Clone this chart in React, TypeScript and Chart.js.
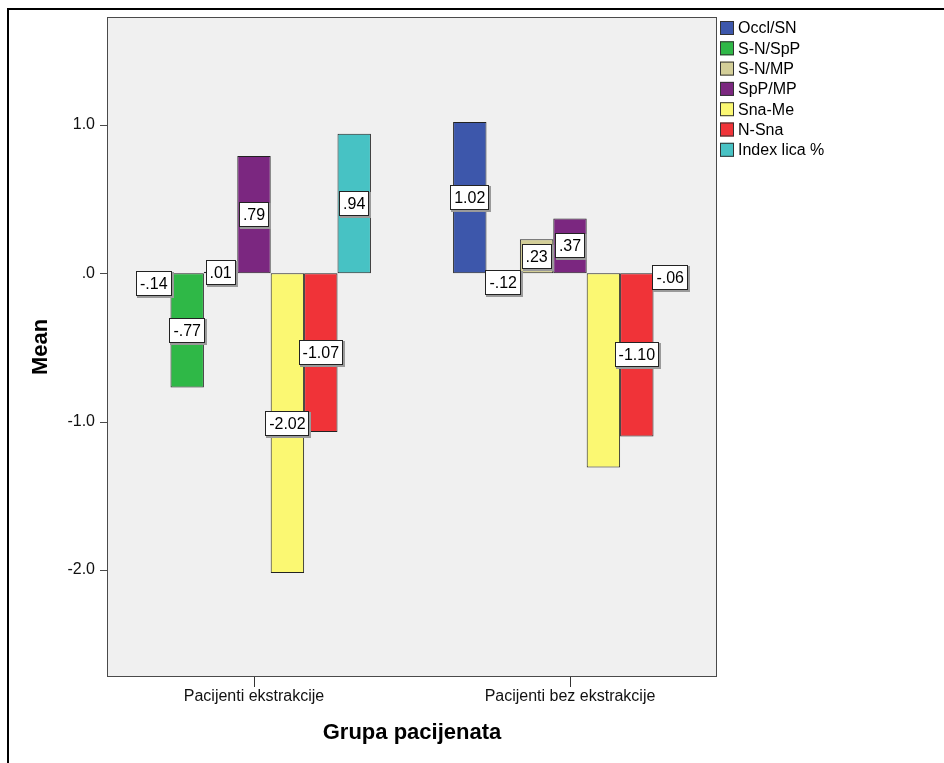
import React, { useEffect, useRef } from 'react';
import { Chart, registerables } from 'chart.js';

Chart.register(...registerables);

const categories = ['Pacijenti ekstrakcije', 'Pacijenti bez ekstrakcije'];
const seriesNames = ['Occl/SN', 'S-N/SpP', 'S-N/MP', 'SpP/MP', 'Sna-Me', 'N-Sna', 'Index lica %'];
const occlSN = [-0.14, 1.02];
const snSpP = [-0.77, -0.12];
const snMP = [0.01, 0.23];
const spPMP = [0.79, 0.37];
const snaMe = [-2.02, -1.31];
const nSna = [-1.07, -1.1];
const indexLica = [0.94, -0.06];
const seriesValues = [occlSN, snSpP, snMP, spPMP, snaMe, nSna, indexLica];
const seriesColors = ['#3D57AB', '#2FB847', '#D4CF98', '#7B2780', '#FBF872', '#F03338', '#47C2C4'];
// value labels hidden by the original renderer (overlap)
const hiddenLabels = [{ series: 4, category: 1 }];
const yTickValues = [-2, -1, 0, 1];
const yMin = -2.722;
const yMax = 1.728;
const xTitle = 'Grupa pacijenata';
const yTitle = 'Mean';

const FONT = '"Liberation Sans", Arial, Helvetica, sans-serif';

function fmtValue(v: number): string {
  const s = Math.abs(v).toFixed(2).replace(/^0/, '');
  return (v < 0 ? '-' : '') + s;
}
function fmtTick(v: number): string {
  if (v === 0) return '.0';
  return v.toFixed(1);
}

const decorPlugin = {
  id: 'decor',
  beforeDraw(chart: any) {
    const { ctx, chartArea } = chart;
    const inset = 11;
    const L = chartArea.left + inset;
    const R = chartArea.right - inset;
    const T = chartArea.top;
    const B = chartArea.bottom;
    ctx.save();
    ctx.fillStyle = '#FFFFFF';
    ctx.fillRect(0, 0, chart.width, chart.height);
    // outer frame (top and left)
    ctx.fillStyle = '#000000';
    ctx.fillRect(7, 8, chart.width - 7, 2);
    ctx.fillRect(7, 8, 2, chart.height - 8);
    // plot background
    ctx.fillStyle = '#F0F0F0';
    ctx.fillRect(L, T, R - L, B - T);
    ctx.strokeStyle = '#4A4A4A';
    ctx.lineWidth = 1;
    ctx.strokeRect(L + 0.5, T + 0.5, R - L - 1, B - T - 1);
    // y tick marks
    const ys = chart.scales.y;
    ctx.beginPath();
    for (const v of yTickValues) {
      const py = Math.round(ys.getPixelForValue(v)) + 0.5;
      ctx.moveTo(L - 7, py);
      ctx.lineTo(L, py);
    }
    ctx.stroke();
    // axis titles
    ctx.fillStyle = '#000000';
    ctx.font = 'bold 22px ' + FONT;
    ctx.textAlign = 'center';
    ctx.textBaseline = 'middle';
    ctx.fillText(xTitle, (L + R) / 2, 733);
    ctx.save();
    ctx.translate(41, (T + B) / 2);
    ctx.rotate(-Math.PI / 2);
    ctx.fillText(yTitle, 0, 0);
    ctx.restore();
    // legend
    ctx.font = '16px ' + FONT;
    ctx.textAlign = 'left';
    for (let i = 0; i < seriesNames.length; i++) {
      const sy = 21 + i * 20.3;
      ctx.fillStyle = seriesColors[i];
      ctx.fillRect(720, sy, 14, 14);
      ctx.strokeStyle = '#333333';
      ctx.strokeRect(720.5, sy + 0.5, 13, 13);
      ctx.fillStyle = '#000000';
      ctx.fillText(seriesNames[i], 738, sy + 8);
    }
    ctx.restore();
  },
  afterDatasetsDraw(chart: any) {
    const { ctx } = chart;
    ctx.save();
    ctx.font = '16px ' + FONT;
    ctx.textAlign = 'center';
    ctx.textBaseline = 'middle';
    chart.data.datasets.forEach((ds: any, di: number) => {
      const meta = chart.getDatasetMeta(di);
      meta.data.forEach((bar: any, ci: number) => {
        if (hiddenLabels.some((h) => h.series === di && h.category === ci)) return;
        const v = ds.data[ci];
        const text = fmtValue(v);
        const cx = bar.x;
        const cy = (bar.y + bar.base) / 2;
        const w = Math.round(ctx.measureText(text).width + 8);
        const h = 25;
        const x0 = Math.round(cx - w / 2);
        const y0 = Math.round(cy - h / 2);
        ctx.fillStyle = '#9A9A9A';
        ctx.fillRect(x0 + 1, y0 + 1, w + 1, h + 1);
        ctx.fillStyle = '#FFFFFF';
        ctx.fillRect(x0, y0, w, h);
        ctx.strokeStyle = '#222222';
        ctx.lineWidth = 1;
        ctx.strokeRect(x0 + 0.5, y0 + 0.5, w - 1, h - 1);
        ctx.fillStyle = '#000000';
        ctx.fillText(text, cx, y0 + h / 2 + 1);
      });
    });
    ctx.restore();
  },
};

export default function App() {
  const canvasRef = useRef<HTMLCanvasElement | null>(null);

  useEffect(() => {
    const canvas = canvasRef.current;
    if (!canvas) return;
    Chart.defaults.font.family = FONT;
    const chart = new Chart(canvas, {
      type: 'bar',
      data: {
        labels: categories,
        datasets: seriesNames.map((name, i) => ({
          label: name,
          data: seriesValues[i],
          backgroundColor: seriesColors[i],
          borderColor: '#222222',
          borderWidth: 1,
          borderSkipped: false,
          categoryPercentage: 0.74,
          barPercentage: 1,
        })),
      },
      options: {
        animation: false,
        responsive: false,
        devicePixelRatio: 1,
        layout: { padding: { left: 0, right: 216, top: 17, bottom: 0 } },
        plugins: {
          legend: { display: false },
          tooltip: { enabled: false },
        },
        scales: {
          x: {
            type: 'category',
            offset: true,
            grid: {
              display: true,
              drawOnChartArea: false,
              drawTicks: true,
              tickLength: 10,
              offset: false,
              color: '#333333',
              lineWidth: 1,
            },
            border: { display: false },
            ticks: {
              color: '#111111',
              font: { size: 16, family: FONT },
              padding: 0,
              maxRotation: 0,
            },
            afterFit: (s: any) => {
              s.height = 86;
            },
          },
          y: {
            type: 'linear',
            min: yMin,
            max: yMax,
            grid: { display: false, drawTicks: false },
            border: { display: false },
            ticks: {
              stepSize: 1,
              includeBounds: false,
              color: '#111111',
              font: { size: 16, family: FONT },
              padding: 1,
              callback: (v: any) => fmtTick(Number(v)),
            },
            afterBuildTicks: (s: any) => {
              s.ticks = yTickValues.map((v) => ({ value: v }));
            },
            afterFit: (s: any) => {
              s.width = 96;
            },
          },
        },
      },
      plugins: [decorPlugin],
    });
    return () => chart.destroy();
  }, []);

  return (
    <div style={{ position: 'absolute', left: 0, top: 0, width: 944, height: 763 }}>
      <canvas ref={canvasRef} width={944} height={763} style={{ display: 'block', width: 944, height: 763 }} />
    </div>
  );
}
